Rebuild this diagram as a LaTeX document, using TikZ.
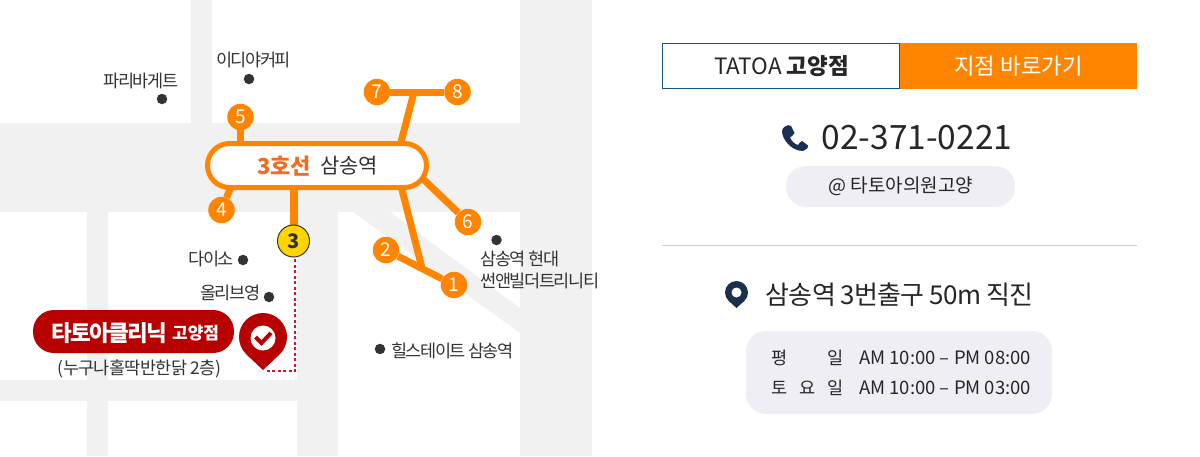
\documentclass[tikz,border=0pt]{standalone}
\usepackage{fontspec}
\setmainfont{Noto Sans CJK KR}
\usetikzlibrary{backgrounds}
\definecolor{roadgray}{HTML}{F1F1F1}
\definecolor{lineorange}{HTML}{FF8500}
\definecolor{lineword}{HTML}{F26B21}
\definecolor{pinred}{HTML}{B70000}
\definecolor{walkred}{HTML}{DD1122}
\definecolor{stopyellow}{HTML}{FFD500}
\definecolor{darkgray}{HTML}{333333}
\definecolor{navy}{HTML}{1B2F4E}
\definecolor{frameblue}{HTML}{0E5688}
\definecolor{softgray}{HTML}{EEEEF4}
\newcommand{\fsize}[1]{\fontsize{#1}{#1}\selectfont}
\newcommand{\tight}[1]{\addfontfeature{LetterSpace=#1}}
\tikzset{
  maplabel/.style={inner sep=0pt,text=darkgray,font=\fsize{17.5}\tight{-8.5}},
  placedot/.style={circle,fill=darkgray,inner sep=0pt,minimum size=10.5pt},
  stopnum/.style={circle,fill=lineorange,text=white,inner sep=0pt,minimum size=26.5pt,font=\fsize{19}},
  feed/.style={lineorange,line width=7pt},
  softpill/.style={fill=softgray,inner sep=0pt},
  infotext/.style={inner sep=0pt,text=black!85,anchor=base},
}
\begin{document}
\begin{tikzpicture}[x=1pt,y=-1pt]
    \useasboundingbox (0,0) rectangle (1200,456);
    % Map labels and places
    \node[maplabel,anchor=base] (ediyaText) at (253.5,66.5) {이디야커피};
    \node[placedot] (ediyaDot) at (249,79) {};
    \node[maplabel,anchor=base] (parisText) at (141,87) {파리바게트};
    \node[placedot] (parisDot) at (162,99) {};
    \node[maplabel,anchor=base east] (daisoText) at (234,265) {다이소};
    \node[placedot] (daisoDot) at (243,260) {};
    \node[maplabel,anchor=base east] (oliveText) at (260.5,299.5) {올리브영};
    \node[placedot] (oliveDot) at (269,297) {};
    \node[placedot] (hyundaiDot) at (496.5,240) {};
    \node[maplabel,anchor=north west,align=left] (hyundaiText) at (480.5,250.5) {삼송역 현대\\[4.5pt]썬앤빌더트리니티};
    \node[placedot] (hillDot) at (380,349) {};
    \node[maplabel,anchor=base west] (hillText) at (391,357.5) {힐스테이트 삼송역};
    % Station
    \node[draw=lineorange,fill=white,line width=5pt,rounded corners=22pt,minimum width=219pt,minimum height=44pt,inner sep=0pt] (station) at (317,165.5) {};
    \node[inner sep=0pt,anchor=base west,text=lineword,font=\fsize{22}\bfseries] (lineText) at (257,174) {3호선};
    \node[inner sep=0pt,anchor=base west,text=darkgray,font=\fsize{21}] (stationText) at (320,173) {삼송역};
    % Exits
    \node[stopnum] (exitOne) at (454,285) {1};
    \node[stopnum] (exitTwo) at (386,250) {2};
    \node[circle,draw=darkgray,fill=stopyellow,line width=1pt,text=darkgray,inner sep=0pt,minimum size=32pt,font=\fsize{20}\bfseries] (exitThree) at (293.5,241) {3};
    \node[stopnum] (exitFour) at (221.5,210) {4};
    \node[stopnum] (exitFive) at (240.5,117) {5};
    \node[stopnum] (exitSix) at (468,222) {6};
    \node[stopnum] (exitSeven) at (377,92) {7};
    \node[stopnum] (exitEight) at (457.5,92) {8};
    \coordinate (topFork) at (414,92);
    \coordinate (lowFork) at (422,268);
    \coordinate (walkCorner) at (295,371);
    \coordinate (walkEnd) at (265,371);
    \coordinate (walkStart) at (295,259);
    % Clinic label
    \node[fill=pinred,rounded corners=21pt,minimum width=201pt,minimum height=43pt,inner sep=0pt] (clinicPill) at (133.5,331.5) {};
    \node[inner sep=0pt,anchor=base west,text=white,font=\fsize{22.5}\bfseries\tight{-7}] (clinicText) at (51,341) {타토아클리닉};
    \node[inner sep=0pt,anchor=base west,text=white,font=\fsize{17}\bfseries] (clinicBranch) at (172,339.5) {고양점};
    \node[inner sep=0pt,text=darkgray,anchor=base,font=\fsize{17.5}\tight{-3.5}] (clinicFloor) at (139.5,374) {(누구나홀딱반한닭 2층)};
    % Clinic pin
    \fill[pinred] (263,337) circle (24pt);
    \fill[pinred] (246.5,354.5) -- (263,370) -- (279.5,354.5) -- cycle;
    \fill[white] (263,338) circle (12.5pt);
    \draw[pinred,line width=4pt] (255.5,337) -- (261.5,343) -- (271,333);
    % Right side
    \node[draw=frameblue,line width=1pt,fill=white,minimum width=237pt,minimum height=45pt,inner sep=0pt] (branchBox) at (780.5,66) {};
    \node[fill=lineorange,minimum width=237pt,minimum height=46pt,inner sep=0pt] (linkBox) at (1018.5,66) {};
    \node[infotext,font=\fsize{22.5}] (branchText) at (781.5,74) {TATOA \textbf{고양점}};
    \node[inner sep=0pt,anchor=base,text=white,font=\fsize{22.3}] (linkText) at (1018.5,74) {지점 바로가기};
    % Phone
    \fill[navy] (785,126.5) .. controls (787,125) and (790,124.5) .. (791,126) -- (794.5,133) .. controls (794.5,135) and (791,136) .. (790,137.5) .. controls (791,140.5) and (795,144.5) .. (798,145) .. controls (799.5,143.5) and (800.5,141) .. (802,141) -- (808,145.5) .. controls (808.5,147.5) and (806,150.5) .. (803,151) .. controls (791,151) and (782,139) .. (782,131) .. controls (782,129) and (783.5,127.5) .. (785,126.5) -- cycle;
    \node[infotext,font=\fsize{33.5}] (phoneText) at (917,149) {02-371-0221};
    \node[softpill,rounded corners=20pt,minimum width=229pt,minimum height=41pt] (accountPill) at (900.5,186.5) {};
    \node[infotext,font=\fsize{19}] (accountText) at (901,192.5) {@ 타토아의원고양};
    \draw[black!20] (662,245.5) -- (1137,245.5);
    % Directions
    \fill[navy] (736.5,292.5) circle (11.5pt);
    \fill[navy] (728.8,301) -- (736.5,308) -- (744.2,301) -- cycle;
    \fill[white] (736.5,292.5) circle (5pt);
    \node[infotext,font=\fsize{26}\tight{-3}] (walkText) at (899.5,304) {삼송역 3번출구 50m 직진};
    % Opening hours
    \node[softpill,rounded corners=20pt,minimum width=306pt,minimum height=83pt] (hoursBox) at (899,372.5) {};
    \node[infotext,font=\fsize{17.5}] (dayA) at (780,364.5) {평};
    \node[infotext,font=\fsize{17.5}] (dayB) at (836,364.5) {일};
    \node[infotext,font=\fsize{17.5}] (dayC) at (780,394.5) {토};
    \node[infotext,font=\fsize{17.5}] (dayD) at (808,394.5) {요};
    \node[infotext,font=\fsize{17.5}] (dayE) at (836,394.5) {일};
    \node[infotext,anchor=base west,font=\fsize{18.5}] (hoursA) at (859,364.5) {AM 10:00 – PM 08:00};
    \node[infotext,anchor=base west,font=\fsize{18.5}] (hoursB) at (859,394.5) {AM 10:00 – PM 03:00};
    % Roads and connectors go behind the nodes
    \begin{pgfonlayer}{background}
        \fill[roadgray] (191,0) rectangle (212,123);
        \fill[roadgray] (0,123) rectangle (520,212);
        \fill[roadgray] (87,212) rectangle (108,456);
        \fill[roadgray] (0,380) rectangle (297,401);
        \fill[roadgray] (297,212) rectangle (338,456);
        \fill[roadgray] (520,0) rectangle (592,456);
        \fill[roadgray] (353,212) -- (390,212) -- (520,308) -- (520,333) -- cycle;
        \draw[feed] (exitSeven) -- (exitEight);
        \draw[feed] (topFork) -- (399,150);
        \draw[feed] (exitTwo) -- (exitOne);
        \draw[feed] (lowFork) -- (400,182);
        \draw[feed] (exitSix) -- (420,176);
        \draw[feed] (exitFive) -- (exitFive |- station);
        \draw[feed] (exitFour) -- (233,182);
        \draw[lineorange,line width=8pt] (exitThree) -- (exitThree |- station);
        \draw[walkred,line width=2pt,dash pattern=on 3pt off 2.5pt] (walkStart) -- (walkCorner) -- (walkEnd);
    \end{pgfonlayer}
\end{tikzpicture}
\end{document}
